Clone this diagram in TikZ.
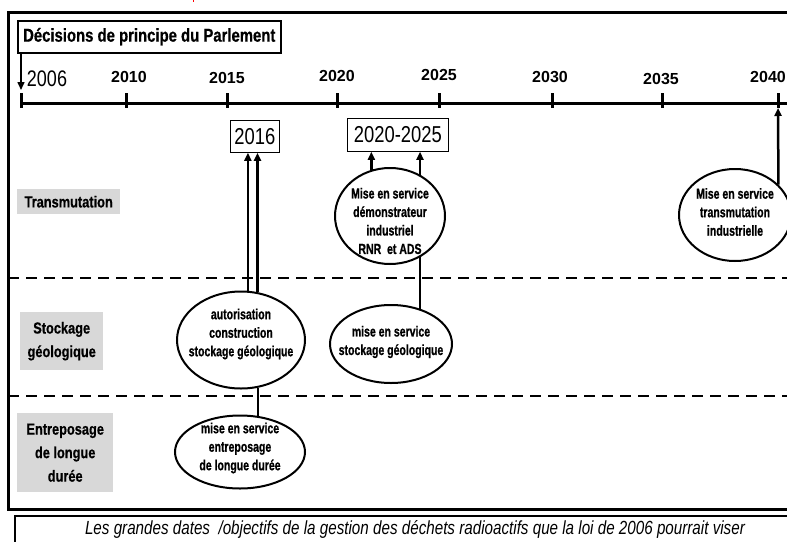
\documentclass[tikz,border=0pt]{standalone}
\usepackage{fontspec}
\setmainfont{Liberation Sans}
\newfontfamily\narrowf{Liberation Sans}[FakeStretch=0.8]
\newfontfamily\narrowbf{Liberation Sans Bold}[FakeStretch=0.8, FakeBold=0.6]
\newfontfamily\tightf{Liberation Sans Bold}[FakeStretch=0.72, FakeBold=0.8]
\usetikzlibrary{shapes.geometric,arrows.meta,calc}
\definecolor{lbl}{RGB}{216,216,216}
\begin{document}
\begin{tikzpicture}[x=1pt,y=-1pt,
  frame/.style={line width=3pt},
  tl/.style={line width=3pt},
  tickmark/.style={line width=3pt},
  yr/.style={font=\fontsize{16}{18}\selectfont\bfseries, inner sep=0pt},
  bigyr/.style={font=\narrowf\fontsize{22.5}{24}\selectfont, inner sep=0pt},
  sep/.style={line width=2pt, dash pattern=on 11pt off 7pt},
  cat/.style={fill=lbl, inner sep=0pt, anchor=north west},
  cattext/.style={font=\narrowbf\fontsize{16}{23.5}\selectfont, align=center, inner sep=0pt},
  ev/.style={ellipse, draw, line width=2pt, inner sep=0pt},
  evtext/.style={font=\tightf\fontsize{14.6}{18.5}\selectfont, align=center, inner sep=0pt},
  arr/.style={line width=2.5pt, -{Triangle[width=7pt,length=8pt]}},
  link/.style={line width=2pt},
  datebox/.style={draw, line width=0.8pt, anchor=north west, inner sep=0pt, font=\narrowf\fontsize{23}{24}\selectfont}
]
\useasboundingbox (0,0) rectangle (787,541);
\clip (0,0) rectangle (787,541);

% stray red mark
\fill[red] (192.5,0) rectangle (194,2);

% frames
\draw[frame] (8,12) rectangle (800,509);
\draw[line width=2.5pt] (15,516) rectangle (800,570);
\node[font=\narrowf\itshape\fontsize{19}{20}\selectfont, inner sep=0pt] (cap) at (415,529)
  {Les grandes dates \ /objectifs de la gestion des déchets radioactifs que la loi de 2006 pourrait viser};

% timeline
\coordinate (t2006) at (21,103);
\coordinate (t2010) at (126,103);
\coordinate (t2015) at (227,103);
\coordinate (t2020) at (337,103);
\coordinate (t2025) at (439,103);
\coordinate (t2030) at (552,103);
\coordinate (t2035) at (662,103);
\coordinate (t2040) at (778,103);
\draw[tl] (t2006) -- (800,103);
\foreach \t in {t2006,t2010,t2015,t2020,t2025,t2030,t2035,t2040}
  \draw[tickmark] ($(\t)+(0,-10)$) -- ($(\t)+(0,5)$);

\node[bigyr] (y2006) at (47,79) {2006};
\node[yr] (y2010) at (129,77) {2010};
\node[yr] (y2015) at (227,78) {2015};
\node[yr] (y2020) at (337,76) {2020};
\node[yr] (y2025) at (439,75) {2025};
\node[yr] (y2030) at (550,77) {2030};
\node[yr] (y2035) at (661,79) {2035};
\node[yr, anchor=east] (y2040) at (786,77) {2040};

% decision box
\node[draw, line width=1.5pt, anchor=north west, minimum width=263pt, minimum height=32pt, inner sep=0pt,
      font=\narrowbf\fontsize{18.6}{20}\selectfont] (dec) at (17,20) {Décisions de principe du Parlement};
\draw[arr, line width=1.5pt] (dec.south -| t2006) -- ($(t2006)+(0,-13)$);

% separators
\draw[sep] (8,278) -- (787,278);
\draw[sep] (8,396) -- (787,396);

% category labels
\node[cat, minimum width=103pt, minimum height=25pt] (catT) at (17,189) {};
\node[cattext] (catTt) at (catT.center) {Transmutation};
\node[cat, minimum width=83pt, minimum height=58pt] (catS) at (20,312) {};
\node[cattext] (catSt) at (catS.center) {Stockage\\géologique};
\node[cat, minimum width=96pt, minimum height=79pt] (catE) at (17,413) {};
\node[cattext] (catEt) at (catE.center) {Entreposage\\de longue\\durée};

% date boxes
\node[datebox, minimum width=49pt, minimum height=32pt] (b2016) at (230,120) {2016};
\node[datebox, minimum width=101pt, minimum height=33pt] (b2020) at (347,118) {2020-2025};

% events
\node[ev, minimum width=128pt, minimum height=97pt] (auto) at (241,340) {};
\node[evtext] (autot) at (241,334) {autorisation\\construction\\stockage géologique};

\node[ev, minimum width=130pt, minimum height=73pt] (entr) at (240,452) {};
\node[evtext] (entrt) at (240,448) {mise en service\\entreposage\\de longue durée};

\node[ev, minimum width=110pt, minimum height=96pt] (demo) at (390,216) {};
\node[evtext] (demot) at (390,221) {Mise en service\\démonstrateur\\industriel\\RNR \ et ADS};

\node[ev, minimum width=122pt, minimum height=78pt] (stock) at (391,344) {};
\node[evtext] (stockt) at (391,342) {mise en service\\stockage géologique};

\node[ev, minimum width=112pt, minimum height=92pt] (trans) at (735,215) {};
\node[evtext] (transt) at (735,212) {Mise en service\\transmutation\\industrielle};

% connectors
\draw[arr] (auto.82.8) -- (auto.82.8 |- b2016.south);
\draw[arr] (auto.71) -- (auto.71 |- b2016.south);
\draw[link] (auto.-70) -- (auto.-70 |- entr.62.9);
\draw[arr] (demo.112.9) -- (demo.112.9 |- b2020.south);
\draw[arr] (demo.54.6) -- (demo.54.6 |- b2020.south);
\draw[link] (demo.-54.6) -- (demo.-54.6 |- stock.51);
\draw[arr] (trans.35.9) -- ($(t2040)+(0,5)$);
\end{tikzpicture}
\end{document}
